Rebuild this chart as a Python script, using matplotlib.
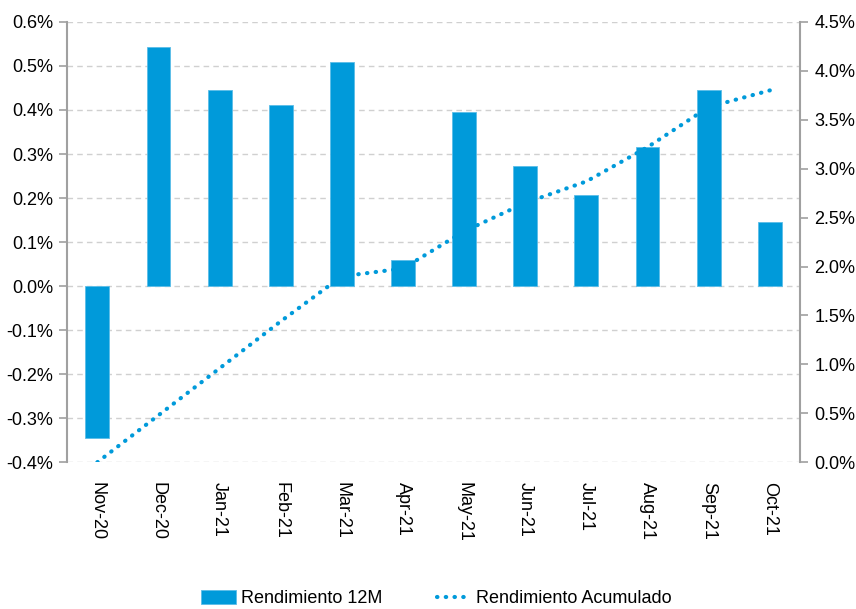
import numpy as np
import matplotlib
matplotlib.use("Agg")
import matplotlib.pyplot as plt
from matplotlib.ticker import FuncFormatter

plt.rcParams['font.family'] = ['Liberation Sans Narrow', 'Liberation Sans', 'DejaVu Sans']

# datos
meses = ["Nov-20", "Dec-20", "Jan-21", "Feb-21", "Mar-21", "Apr-21",
         "May-21", "Jun-21", "Jul-21", "Aug-21", "Sep-21", "Oct-21"]
rend_12m = [-0.345, 0.543, 0.445, 0.411, 0.509, 0.059,
            0.395, 0.273, 0.207, 0.316, 0.445, 0.145]
rend_acum = [0.0, 0.48, 0.96, 1.44, 1.90, 1.98,
             2.36, 2.65, 2.87, 3.22, 3.63, 3.80]

azul = "#009ADA"
gris = "#A0A0A0"


def pct(v, p):
    if abs(v) < 1e-9:
        v = 0.0
    return f"{v:.1f}%"


fig = plt.figure(figsize=(8.56, 6.09), dpi=100)
ax = fig.add_axes([0.078, 0.241, 0.857, 0.723])
ax2 = ax.twinx()

x = np.arange(len(meses))
ax.bar(x, rend_12m, width=0.39, color=azul, edgecolor="#5BBDE8", linewidth=0.6,
       label="Rendimiento 12M", zorder=3)
ax2.plot(x, rend_acum, color=azul, linestyle=(0, (0.1, 2.0)), linewidth=3.0,
         dash_capstyle="round", label="Rendimiento Acumulado", zorder=4)

ax.set_xlim(-0.5, len(meses) - 0.5)
ax.set_ylim(-0.4, 0.6)
ax.set_yticks(np.arange(-0.4, 0.61, 0.1))
ax.yaxis.set_major_formatter(FuncFormatter(pct))
ax2.set_ylim(0, 4.5)
ax2.set_yticks(np.arange(0, 4.51, 0.5))
ax2.yaxis.set_major_formatter(FuncFormatter(pct))

ax.grid(axis="y", color="#D0D0D0", linestyle=(0, (4, 3)), linewidth=1, zorder=0)
ax.set_axisbelow(True)

ax.set_xticks(x)
ax.set_xticklabels(meses, rotation=-90, fontsize=13)
ax.tick_params(axis="x", length=0, pad=14)
ax.tick_params(axis="y", labelsize=13, color=gris, length=6, width=1.2, pad=4)
ax2.tick_params(axis="y", labelsize=13, color=gris, length=6, width=1.2, pad=4)

for a in (ax, ax2):
    a.spines["top"].set_visible(False)
    a.spines["bottom"].set_visible(False)
    a.spines["left"].set_color(gris)
    a.spines["right"].set_color(gris)
    a.spines["left"].set_linewidth(1.5)
    a.spines["right"].set_linewidth(1.5)
ax2.spines["left"].set_visible(False)
ax.spines["right"].set_visible(False)

h1, l1 = ax.get_legend_handles_labels()
h2, l2 = ax2.get_legend_handles_labels()
fig.legend(h1 + h2, l1 + l2, loc="lower center", bbox_to_anchor=(0.51, -0.024),
           ncol=2, frameon=False, fontsize=13, columnspacing=3.0,
           handlelength=1.9, handleheight=0.8, handletextpad=0.3)

fig.savefig("out.png", dpi=100)
